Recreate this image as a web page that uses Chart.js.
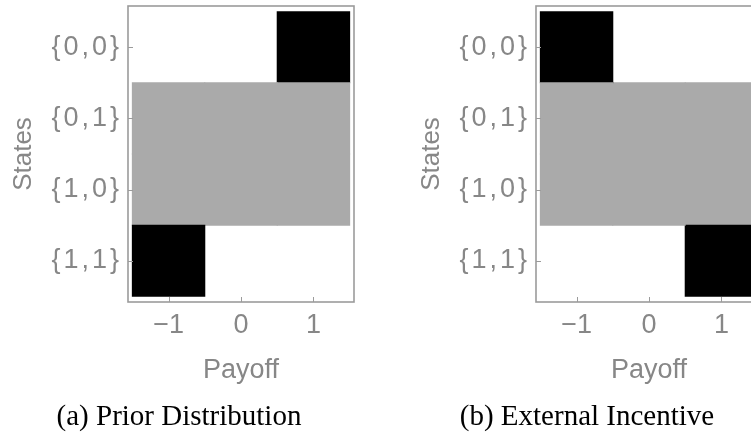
<!DOCTYPE html>
<html>
<head>
<meta charset="utf-8">
<script src="https://cdn.jsdelivr.net/npm/chart.js@4"></script>
<style>
  html, body { margin: 0; padding: 0; background: #ffffff; overflow: hidden; }
  body { width: 751px; height: 435px; position: relative; }
  .panel { position: absolute; top: 0; width: 362px; height: 435px; }
  #panelA { left: 0; }
  #panelB { left: 408px; }
</style>
</head>
<body>
<div class="panel" id="panelA"><canvas id="chartA" width="362" height="435"></canvas></div>
<div class="panel" id="panelB"><canvas id="chartB" width="362" height="435"></canvas></div>
<script>
// States of the two-bit world, top to bottom
const states = ['{0,0}', '{0,1}', '{1,0}', '{1,1}'];
// Payoff values along the horizontal axis
const payoffs = [-1, 0, 1];

// Prior distribution: probability of each payoff, per state
const priorAtMinus1 = [0, 1 / 3, 1 / 3, 1];
const priorAtZero   = [0, 1 / 3, 1 / 3, 0];
const priorAtPlus1  = [1, 1 / 3, 1 / 3, 0];

// External incentive: probability of each payoff, per state
const incentiveAtMinus1 = [1, 1 / 3, 1 / 3, 0];
const incentiveAtZero   = [0, 1 / 3, 1 / 3, 0];
const incentiveAtPlus1  = [0, 1 / 3, 1 / 3, 1];

const captions = ['(a) Prior Distribution', '(b) External Incentive'];

const labelColor = '#878787';
const frameColor = '#9b9b9b';
const sansFont = "'Liberation Sans', Arial, sans-serif";
const serifFont = "'Liberation Serif', 'Times New Roman', serif";

// probability -> gray level (1 = black, 0 = white)
function shade(p) {
  const g = Math.round(255 * (1 - p));
  return 'rgb(' + g + ',' + g + ',' + g + ')';
}

// one floating-bar dataset per payoff column; only cells with mass are drawn
function columnDataset(payoff, probs) {
  const data = [];
  const colors = [];
  probs.forEach((p, i) => {
    if (p > 0) {
      data.push({ y: i, x: [payoff - 0.5, payoff + 0.5] });
      colors.push(shade(p));
    }
  });
  return {
    data: data,
    backgroundColor: colors,
    borderWidth: 0,
    inflateAmount: 0.5,
    barPercentage: 1,
    categoryPercentage: 1,
    grouped: false
  };
}

// frame on all four sides plus short inward tick marks
const framePlugin = {
  id: 'frameTicks',
  afterDraw(chart) {
    const { ctx, chartArea: a, scales } = chart;
    ctx.save();
    ctx.strokeStyle = frameColor;
    ctx.lineWidth = 1;
    scales.x.ticks.forEach(t => {
      const px = Math.round(scales.x.getPixelForValue(t.value)) + 0.5;
      ctx.beginPath();
      ctx.moveTo(px, a.bottom);
      ctx.lineTo(px, a.bottom - 5);
      ctx.stroke();
    });
    scales.y.ticks.forEach(t => {
      const py = Math.round(scales.y.getPixelForValue(t.value)) + 0.5;
      ctx.beginPath();
      ctx.moveTo(a.left, py);
      ctx.lineTo(a.left + 5, py);
      ctx.stroke();
    });
    ctx.lineWidth = 1.6;
    ctx.strokeRect(a.left, a.top, a.right - a.left, a.bottom - a.top);
    ctx.restore();
  }
};

function makeChart(canvasId, cols, caption) {
  const chart = new Chart(document.getElementById(canvasId), {
    type: 'bar',
    data: {
      datasets: payoffs.map((v, k) => columnDataset(v, cols[k]))
    },
    options: {
      indexAxis: 'y',
      responsive: false,
      animation: false,
      events: [],
      layout: { padding: { left: 4, right: 8, top: 6, bottom: 0 } },
      plugins: {
        legend: { display: false },
        tooltip: { enabled: false },
        title: {
          display: true,
          text: caption,
          position: 'bottom',
          color: '#000000',
          font: { family: serifFont, size: 29, weight: 'normal', lineHeight: 1.2 },
          padding: { top: 0, bottom: 0 }
        }
      },
      scales: {
        x: {
          type: 'linear',
          min: -1.56,
          max: 1.56,
          offset: false,
          afterBuildTicks: s => { s.ticks = payoffs.map(v => ({ value: v })); },
          afterFit: s => { s.height = 98.2; s.paddingLeft = 0; s.paddingRight = 0; },
          grid: { display: false, drawTicks: false },
          border: { display: false },
          ticks: {
            color: labelColor,
            font: { family: sansFont, size: 27 },
            padding: 7,
            callback: v => (v < 0 ? '\u2212' + Math.abs(v) : String(v))
          },
          title: {
            display: true,
            text: 'Payoff',
            color: labelColor,
            font: { family: sansFont, size: 27 },
            padding: { top: 0, bottom: 13 }
          }
        },
        y: {
          type: 'linear',
          reverse: true,
          min: -0.58,
          max: 3.58,
          offset: false,
          afterBuildTicks: s => { s.ticks = states.map((_, i) => ({ value: i })); },
          afterFit: s => { s.width = 124; s.paddingTop = 0; s.paddingBottom = 0; },
          grid: { display: false, drawTicks: false, offset: false },
          border: { display: false },
          ticks: {
            color: labelColor,
            font: { family: sansFont, size: 27 },
            padding: 6,
            callback: v => states[v]
          },
          title: {
            display: true,
            text: 'States',
            color: labelColor,
            font: { family: sansFont, size: 26 },
            padding: { top: 4, bottom: 0 }
          }
        }
      }
    },
    plugins: [framePlugin]
  });

  // state labels are typeset with looser letter spacing
  const yScale = chart.scales.y;
  const baseDrawLabels = yScale.drawLabels.bind(yScale);
  yScale.drawLabels = function (area) {
    const ctx = this.ctx;
    ctx.save();
    ctx.letterSpacing = '3px';
    baseDrawLabels(area);
    ctx.restore();
  };
  chart.draw();
}

makeChart('chartA', [priorAtMinus1, priorAtZero, priorAtPlus1], captions[0]);
makeChart('chartB', [incentiveAtMinus1, incentiveAtZero, incentiveAtPlus1], captions[1]);
</script>
</body>
</html>
